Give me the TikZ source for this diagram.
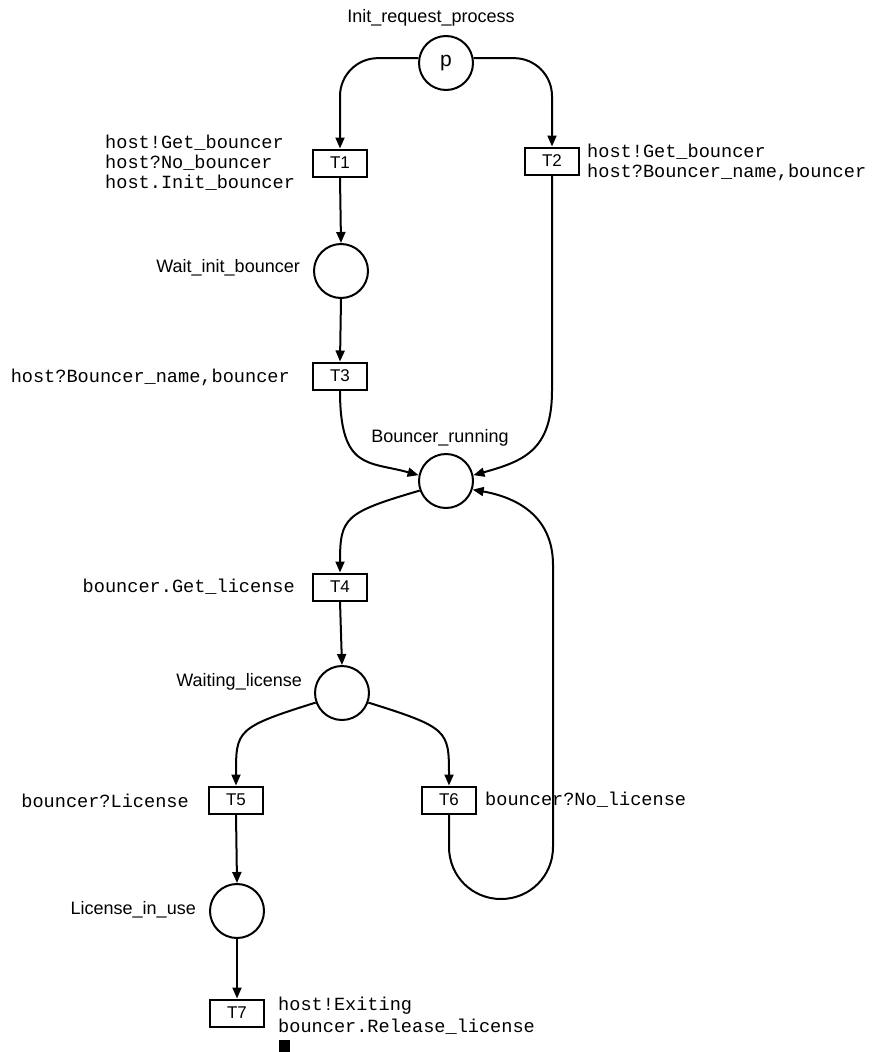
\documentclass[tikz,border=0pt]{standalone}
\usepackage{fontspec}
\setmainfont{Liberation Sans}
\newfontfamily\monof{Liberation Mono}
\usetikzlibrary{arrows.meta}
\begin{document}
\begin{tikzpicture}[x=1pt,y=-1pt,
  place/.style={draw, circle, line width=2pt, minimum size=54pt, inner sep=0pt},
  trans/.style={draw, rectangle, line width=2pt, minimum width=54pt, minimum height=27pt, inner sep=0pt, font=\fontsize{17}{17}\selectfont},
  plabel/.style={font=\fontsize{18}{20}\selectfont, inner sep=0pt},
  mlabel/.style={font=\monof\fontsize{18.6}{20}\selectfont, align=left, inner sep=0pt},
  arc/.style={draw, line width=2pt, -{Triangle[length=11pt,width=9pt]}},
  line/.style={draw, line width=2pt}]
\path[use as bounding box] (0,0) rectangle (871,1052);

% places
\node[place, font=\fontsize{21}{21}\selectfont] (p) at (446,63) {p};
\node[place] (wib) at (341,271) {};
\node[place] (br) at (446,481) {};
\node[place] (wl) at (342,693) {};
\node[place] (lu) at (237,911) {};

% place labels
\node[plabel] (lp) at (431,18) {Init\_request\_process};
\node[plabel, anchor=east] (lwib) at (300,268) {Wait\_init\_bouncer};
\node[plabel] (lbr) at (440,438) {Bouncer\_running};
\node[plabel, anchor=east] (lwl) at (302,682) {Waiting\_license};
\node[plabel, anchor=east] (llu) at (196,910) {License\_in\_use};

% transitions
\node[trans] (T1) at (340,163) {T1};
\node[trans] (T2) at (552,161) {T2};
\node[trans] (T3) at (340,376) {T3};
\node[trans] (T4) at (340,587) {T4};
\node[trans] (T5) at (236,800) {T5};
\node[trans] (T6) at (449,800) {T6};
\node[trans] (T7) at (237,1013) {T7};

% transition labels
\node[mlabel, anchor=west] (lT1) at (105,163) {host!Get\_bouncer\\host?No\_bouncer\\host.Init\_bouncer};
\node[mlabel, anchor=west] (lT2) at (587,162) {host!Get\_bouncer\\host?Bouncer\_name,bouncer};
\node[mlabel, anchor=east] (lT3) at (290,377) {host?Bouncer\_name,bouncer};
\node[mlabel, anchor=east] (lT4) at (295,587) {bouncer.Get\_license};
\node[mlabel, anchor=east] (lT5) at (189,801) {bouncer?License};
\node[mlabel, anchor=west] (lT6) at (485,800) {bouncer?No\_license};
\node[mlabel, anchor=west, font=\monof\fontsize{18.6}{22}\selectfont] (lT7) at (278,1016) {host!Exiting\\bouncer.Release\_license};
\fill (279,1040) rectangle (290,1052);

% arcs
\draw[arc, rounded corners=38pt] (p.170) -| (T1.north);
\draw[arc, rounded corners=38pt] (p.10) -| (T2.north);
\draw[arc] (T1.south) -- (wib.north);
\draw[arc] (wib.south) -- (T3.north);
\draw[arc] (T3.south) .. controls +(0,80) and +(-50,-14) .. (br.168);
\draw[arc] (T2.south) -- (T2.south |- T3.south) .. controls +(0,60) and +(50,-14) .. (br.12);
\draw[arc] (br.200) .. controls +(-75,22) and +(0,-55) .. (T4.north);
\draw[arc] (T4.south) -- (wl.north);
\draw[arc] (wl.200) .. controls +(-80,25) and +(0,-55) .. (T5.north);
\draw[arc] (wl.340) .. controls +(80,25) and +(0,-55) .. (T6.north);
\draw[arc] (T5.south) -- (lu.north);
\draw[arc] (lu.south) -- (T7.north);
\draw[arc] (T6.south) -- (449,847) .. controls (449,876) and (472,899) .. (501,899)
   .. controls (530,899) and (553,876) .. (553,847) -- (553,565)
   .. controls (553,515) and (515,497) .. (br.342);
\end{tikzpicture}
\end{document}
